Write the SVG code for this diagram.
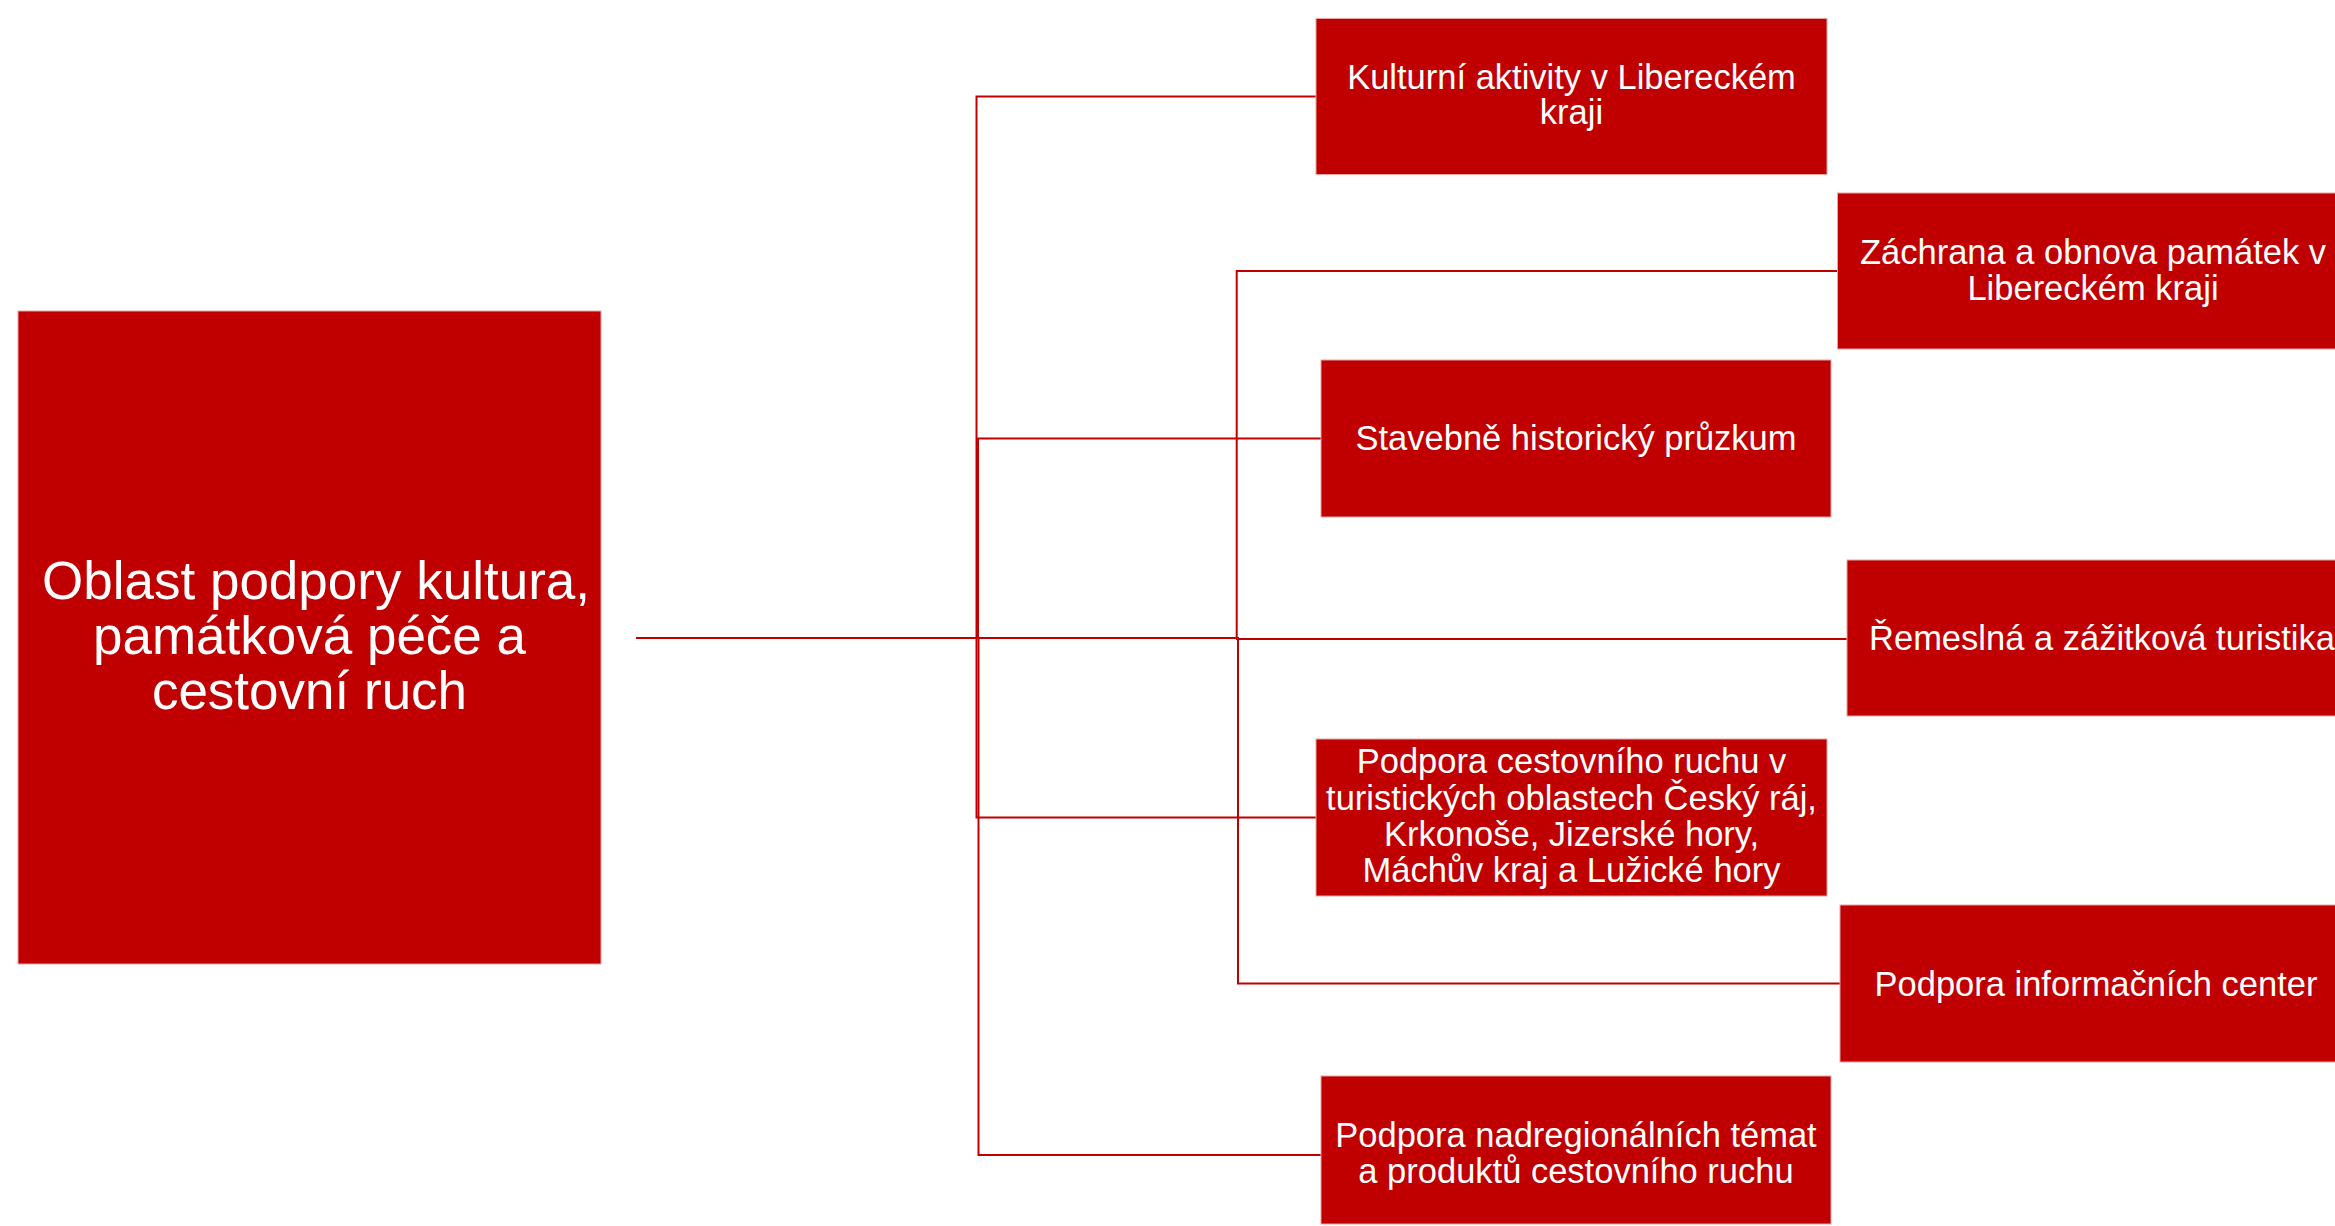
<svg xmlns="http://www.w3.org/2000/svg" width="2335" height="1226" viewBox="0 0 2335 1226">
<style>
.box{fill:#C00000;stroke:#E9A3A3;stroke-width:1}
.t{font-family:"Liberation Sans",Arial,sans-serif;fill:#FFFFFF;text-anchor:middle;font-size:34.5px}
.tm{font-family:"Liberation Sans",Arial,sans-serif;fill:#FFFFFF;text-anchor:middle;font-size:53px}
.c{fill:none;stroke:#C00000;stroke-width:2}
</style>
<rect width="2335" height="1226" fill="#FFFFFF"/>
<g id="connectors">
<path class="c" d="M636,638 H976.5 V96.5 H1316"/>
<path class="c" d="M636,638 H978 V438.5 H1321"/>
<path class="c" d="M636,638 H976.5 V817.5 H1316"/>
<path class="c" d="M636,638 H978.5 V1155 H1321"/>
<path class="c" d="M636,638 H1236.7 V271 H1837.5"/>
<path class="c" d="M636,638 H1237 V639 H1847"/>
<path class="c" d="M636,638 H1238 V983.5 H1840"/>
</g>
<g id="root">
<rect class="box" x="18" y="311" width="583" height="653"/>
<text class="tm" x="316" y="599">Oblast podpory kultura,</text>
<text class="tm" x="309.5" y="654">památková péče a</text>
<text class="tm" x="309.5" y="709">cestovní ruch</text>
</g>
<g id="n1">
<rect class="box" x="1316" y="18.5" width="511" height="156"/>
<text class="t" x="1571.5" y="89">Kulturní aktivity v Libereckém</text>
<text class="t" x="1571.5" y="124">kraji</text>
</g>
<g id="n2">
<rect class="box" x="1837.5" y="193" width="511" height="156"/>
<text class="t" x="2093" y="264">Záchrana a obnova památek v</text>
<text class="t" x="2093" y="300">Libereckém kraji</text>
</g>
<g id="n3">
<rect class="box" x="1321" y="360" width="510" height="157"/>
<text class="t" x="1576" y="450">Stavebně historický průzkum</text>
</g>
<g id="n4">
<rect class="box" x="1847" y="560" width="511" height="156"/>
<text class="t" x="2102" y="650">Řemeslná a zážitková turistika</text>
</g>
<g id="n5">
<rect class="box" x="1316" y="739" width="511" height="157"/>
<text class="t" x="1571.5" y="773">Podpora cestovního ruchu v</text>
<text class="t" x="1571.5" y="810">turistických oblastech Český ráj,</text>
<text class="t" x="1571.5" y="846">Krkonoše, Jizerské hory,</text>
<text class="t" x="1571.5" y="882">Máchův kraj a Lužické hory</text>
</g>
<g id="n6">
<rect class="box" x="1840" y="905" width="512" height="157"/>
<text class="t" x="2096" y="995.5">Podpora informačních center</text>
</g>
<g id="n7">
<rect class="box" x="1321" y="1076" width="510" height="148"/>
<text class="t" x="1576" y="1147">Podpora nadregionálních témat</text>
<text class="t" x="1576" y="1183">a produktů cestovního ruchu</text>
</g>
</svg>
